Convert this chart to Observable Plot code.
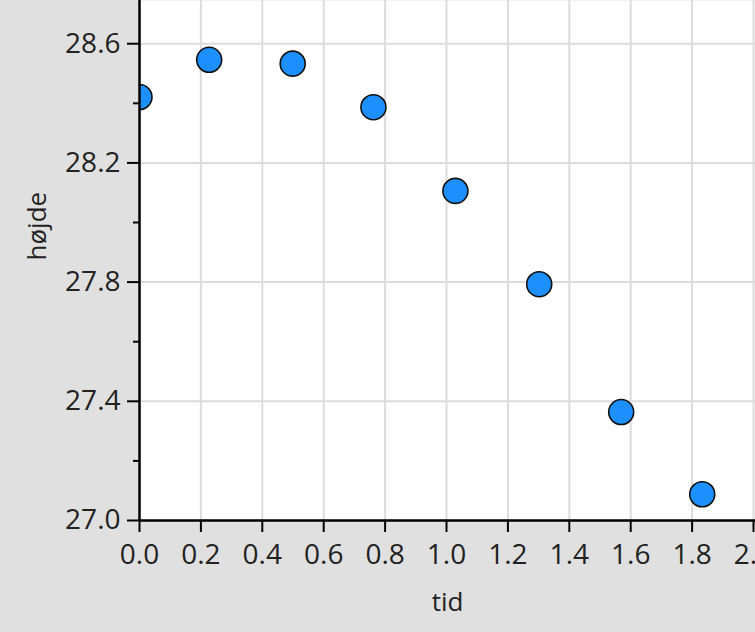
<!DOCTYPE html>
<html>
<head>
<meta charset="utf-8">
<script src="https://cdn.jsdelivr.net/npm/d3@7"></script>
<script src="https://cdn.jsdelivr.net/npm/@observablehq/plot@0.6"></script>
<style>
  html, body { margin: 0; padding: 0; background: #e0e0e0; overflow: hidden; }
</style>
</head>
<body>
<div id="chart"></div>
<script>
// Data
const tid   = [0, 0.227, 0.499, 0.762, 1.029, 1.302, 1.569, 1.833];
const hojde = [28.421, 28.546, 28.533, 28.387, 28.106, 27.793, 27.364, 27.088];
const xTicks = [0, 0.2, 0.4, 0.6, 0.8, 1.0, 1.2, 1.4, 1.6, 1.8, 2.0];
const yTicks = [27.0, 27.4, 27.8, 28.2, 28.6];
const yMinorTicks = [27.2, 27.6, 28.0, 28.4];
const xLabel = "tid";
const yLabel = "højde";

const data = tid.map((t, i) => ({tid: t, hojde: hojde[i]}));
const fmt = d3.format(".1f");

const chart = Plot.plot({
  width: 755,
  height: 632,
  marginLeft: 139,
  marginRight: 0,
  marginTop: 0,
  marginBottom: 112,
  style: {background: "#e0e0e0", fontFamily: "'Open Sans', sans-serif", fontSize: "28px", color: "#222", overflow: "hidden"},
  x: {domain: [0, 2.0065]},
  y: {domain: [27, 28.745]},
  marks: [
    Plot.frame({fill: "white", stroke: null}),
    Plot.gridX(xTicks, {stroke: "#dcdcdc", strokeOpacity: 1, strokeWidth: 2}),
    Plot.gridY(yTicks, {stroke: "#dcdcdc", strokeOpacity: 1, strokeWidth: 2}),
    Plot.dot(data, {x: "tid", y: "hojde", r: 12.5, fill: "#1e8fff", stroke: "#111", strokeWidth: 1.6, clip: "frame"}),
    Plot.axisX(xTicks, {tickSize: 12, tickPadding: 12, tickFormat: fmt, stroke: "#000", strokeWidth: 2, fill: "#222", fontSize: 28, label: null}),
    Plot.axisY(yTicks, {tickSize: 12, tickPadding: 7, tickFormat: fmt, stroke: "#000", strokeWidth: 2, fill: "#222", fontSize: 28, label: null}),
    Plot.axisY(yMinorTicks, {tickSize: 6, tickFormat: () => "", stroke: "#000", strokeWidth: 2, label: null}),
    Plot.ruleX([0], {stroke: "#000", strokeWidth: 2.5}),
    Plot.ruleY([27], {stroke: "#000", strokeWidth: 2.5}),
    Plot.text([xLabel], {text: d => d, frameAnchor: "bottom", dy: 90, fontSize: 26, fill: "#222"}),
    Plot.text([yLabel], {text: d => d, frameAnchor: "left", dx: -102, rotate: -90, fontSize: 26, fill: "#222"})
  ]
});
document.getElementById("chart").appendChild(chart);
</script>
</body>
</html>
